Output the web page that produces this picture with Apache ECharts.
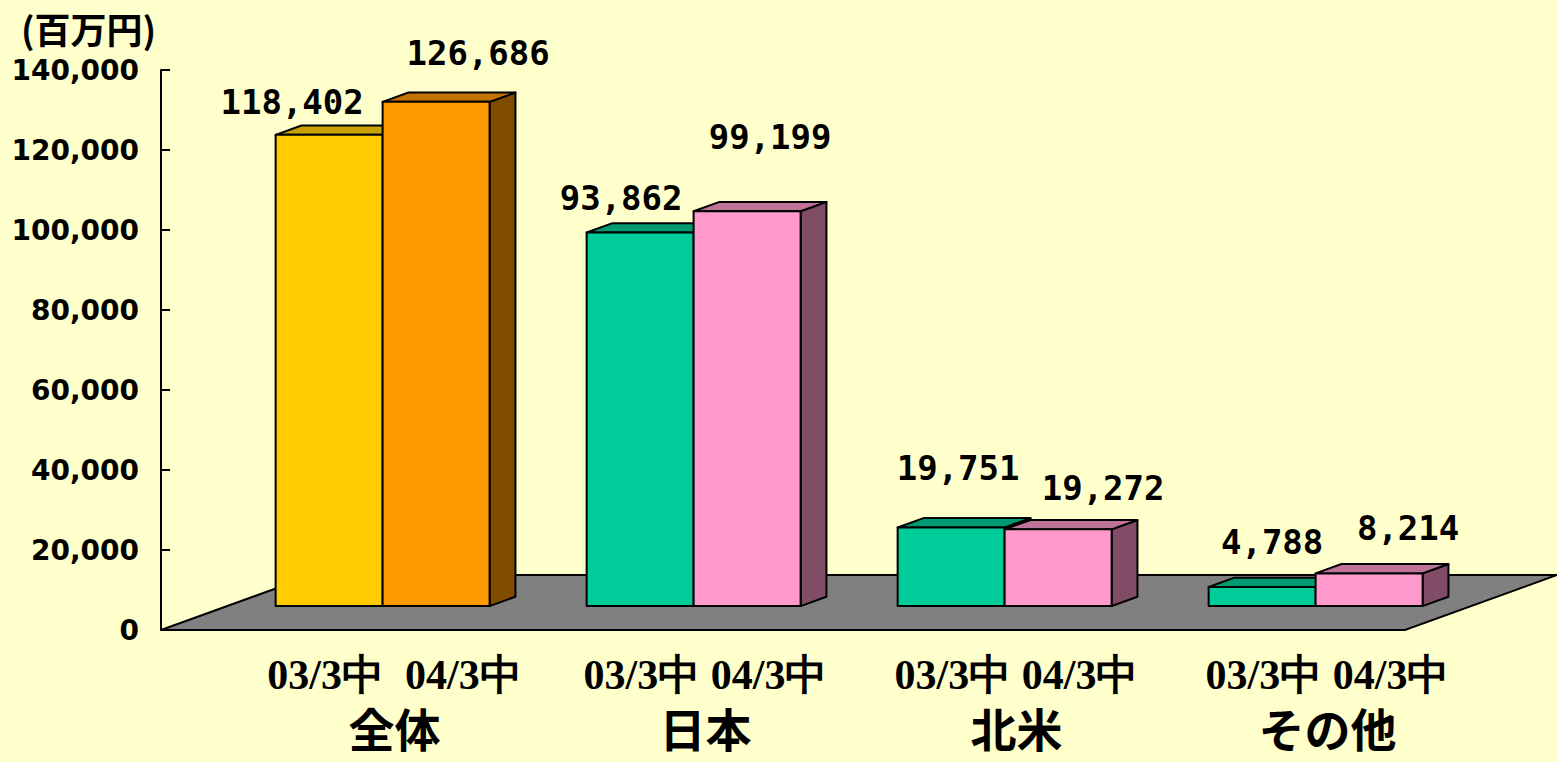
<!DOCTYPE html>
<html>
<head>
<meta charset="utf-8">
<script src="https://cdn.jsdelivr.net/npm/echarts@6/dist/echarts.min.js"></script>
<style>
  html, body { margin: 0; padding: 0; background: #ffffcc; }
  #chart { width: 1557px; height: 762px; }
</style>
</head>
<body>
<div id="chart"></div>
<script>
// 地域別 売上高（百万円）
const regions = ["全体", "日本", "北米", "その他"];
const periodLabels = ["03/3中  04/3中", "03/3中 04/3中", "03/3中 04/3中", "03/3中 04/3中"];
const sales03 = [118402, 93862, 19751, 4788];
const sales04 = [126686, 99199, 19272, 8214];

// 疑似3Dの奥行き (px)
const FLOOR_DX = 152, FLOOR_DY = 55; // 床の奥行き
const BAR_POS = 0.435;               // 床の中での棒の位置
const BAR_DEPTH = 0.17;              // 棒の奥行き

// ラベル位置の微調整 [dx, dy] (棒の上面奥からの位置)
const nudge03 = [[-37, -23], [-19, -25], [7, -50], [10, -36]];
const nudge04 = [[42, -40], [23, -65], [45, -32], [39, -36]];

// 色 [正面, 上面, 側面]
const yellow = ["#ffcc00", "#c8a000", "#806600"];
const orange = ["#ff9900", "#c47300", "#7f4c00"];
const green = ["#00cc99", "#009a73", "#00664d"];
const pink = ["#ff99cc", "#c07398", "#804c66"];
const colors03 = [yellow, green, green, green];
const colors04 = [orange, pink, pink, pink];

const chart = echarts.init(document.getElementById("chart"), null, { renderer: "svg" });

function floorItem(params, api) {
  const cs = params.coordSys;
  const y0 = api.coord([0, 0])[1];
  const x0 = cs.x, x1 = cs.x + cs.width;
  return {
    type: "polygon",
    shape: {
      points: [
        [x0, y0], [x1, y0],
        [x1 + FLOOR_DX, y0 - FLOOR_DY], [x0 + FLOOR_DX, y0 - FLOOR_DY],
      ],
    },
    style: { fill: "#808080", stroke: "#000", lineWidth: 2 },
  };
}

function barRenderer(side, colorSet, nudges) {
  return function (params, api) {
    const i = api.value(0);
    const v = api.value(1);
    const base = api.coord([i, 0]);
    const band = api.size([1, 0])[0];
    const w = band * 0.344;
    const h = (base[1] - api.coord([i, v])[1]) * 0.995;
    const ox = FLOOR_DX * BAR_POS, oy = FLOOR_DY * BAR_POS;
    const dx = FLOOR_DX * BAR_DEPTH, dy = FLOOR_DY * BAR_DEPTH;
    const left = base[0] + ox + (side === 0 ? -w : 0);
    const right = left + w;
    const bottom = base[1] - oy;
    const top = bottom - h;
    const c = colorSet[i];
    const line = { stroke: "#000", lineWidth: 2, lineJoin: "round" };
    const n = nudges[i];
    return {
      type: "group",
      children: [
        {
          type: "polygon",
          shape: { points: [[right, bottom], [right + dx, bottom - dy], [right + dx, top - dy], [right, top]] },
          style: Object.assign({ fill: c[2] }, line),
        },
        {
          type: "polygon",
          shape: { points: [[left, top], [right, top], [right + dx, top - dy], [left + dx, top - dy]] },
          style: Object.assign({ fill: c[1] }, line),
        },
        {
          type: "rect",
          shape: { x: left, y: top, width: w, height: h },
          style: Object.assign({ fill: c[0] }, line),
        },
        {
          type: "text",
          style: {
            text: v.toLocaleString("en-US"),
            x: (left + right) / 2 + n[0],
            y: top - dy + n[1],
            align: "center",
            verticalAlign: "middle",
            fontFamily: "DejaVu Sans Mono",
            fontWeight: "bold",
            fontSize: 34,
            fill: "#000",
          },
        },
      ],
    };
  };
}

const option = {
  backgroundColor: "#ffffcc",
  animation: false,
  title: {
    text: "(百万円)",
    left: 16,
    top: 5,
    textStyle: {
      fontFamily: "Noto Sans CJK JP",
      fontWeight: "bold",
      fontSize: 36,
      color: "#000",
    },
  },
  grid: { left: 161, right: 152, top: 70, bottom: 132 },
  xAxis: {
    type: "category",
    data: regions,
    axisLine: { show: false },
    axisTick: { show: false },
    axisLabel: {
      margin: 20,
      interval: 0,
      padding: [0, 0, 0, 156],
      formatter: (val, idx) => `{p|${periodLabels[idx]}}\n{r|${val}}`,
      rich: {
        p: {
          fontFamily: "Liberation Serif",
          fontWeight: "bold",
          fontSize: 42,
          lineHeight: 50,
          color: "#000",
        },
        r: {
          fontFamily: "Noto Sans CJK JP",
          fontWeight: "bold",
          fontSize: 46,
          lineHeight: 54,
          color: "#000",
        },
      },
    },
  },
  yAxis: {
    type: "value",
    min: 0,
    max: 140000,
    interval: 20000,
    axisLine: { show: true, lineStyle: { color: "#000", width: 2 } },
    axisTick: { show: true, inside: true, length: 9, lineStyle: { color: "#000", width: 2 } },
    splitLine: { show: false },
    axisLabel: {
      margin: 22,
      formatter: (val) => val.toLocaleString("en-US"),
      fontFamily: "DejaVu Sans",
      fontWeight: "bold",
      fontSize: 28,
      color: "#000",
    },
  },
  series: [
    {
      type: "custom",
      name: "floor",
      renderItem: floorItem,
      data: [[0, 0]],
      silent: true,
      z: 1,
    },
    {
      type: "custom",
      name: "03/3中",
      renderItem: barRenderer(0, colors03, nudge03),
      data: sales03.map((v, i) => [i, v]),
      z: 2,
    },
    {
      type: "custom",
      name: "04/3中",
      renderItem: barRenderer(1, colors04, nudge04),
      data: sales04.map((v, i) => [i, v]),
      z: 3,
    },
  ],
};

chart.setOption(option);
</script>
</body>
</html>
